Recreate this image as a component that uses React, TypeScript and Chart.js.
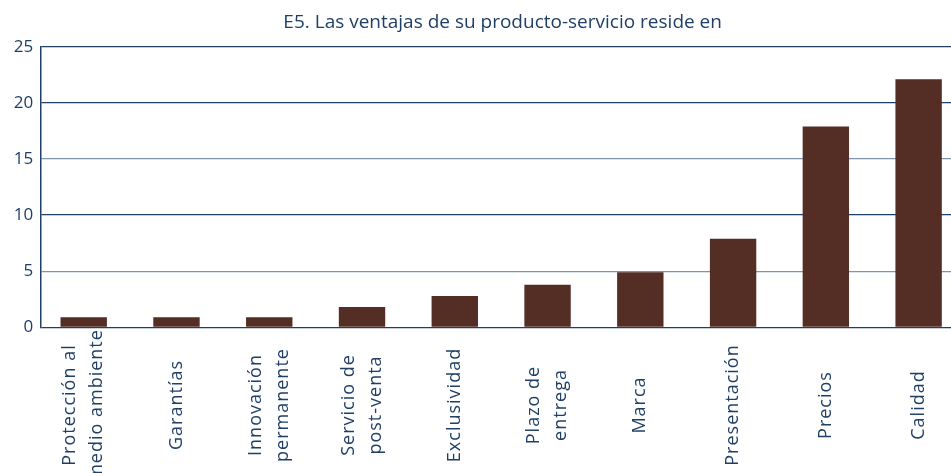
import React, { useEffect, useRef } from "react";
import { Chart, registerables } from "chart.js";

Chart.register(...registerables);

const TITLE = "E5. Las ventajas de su producto-servicio reside en";
const CATEGORIES: string[][] = [
  ["Protección al", "medio ambiente"],
  ["Garantías"],
  ["Innovación", "permanente"],
  ["Servicio de", "post-venta"],
  ["Exclusividad"],
  ["Plazo de", "entrega"],
  ["Marca"],
  ["Presentación"],
  ["Precios"],
  ["Calidad"],
];
const VALUES: number[] = [0.9, 0.9, 0.9, 1.8, 2.8, 3.8, 4.9, 7.9, 17.9, 22.1];
const Y_MIN = 0;
const Y_MAX = 25;
const Y_STEP = 5;

const NAVY = "#1f3f66";
const LIGHT = "#7d94ae";
const BAR = "#542d24";

const xLabelsPlugin = {
  id: "xLabelsRotated",
  afterDraw(chart: any) {
    const ctx = chart.ctx;
    const xs = chart.scales.x;
    ctx.save();
    ctx.fillStyle = NAVY;
    ctx.font = '18px "Open Sans"';
    try {
      (ctx as any).letterSpacing = "1px";
    } catch (e) {}
    ctx.textAlign = "center";
    ctx.textBaseline = "middle";
    const cy = 405;
    const lh = 27;
    CATEGORIES.forEach((lines, i) => {
      const cx = xs.getPixelForValue(i);
      lines.forEach((line, j) => {
        const off = (j - (lines.length - 1) / 2) * lh;
        ctx.save();
        ctx.translate(cx + off, cy);
        ctx.rotate(-Math.PI / 2);
        ctx.fillText(line, 0, 0);
        ctx.restore();
      });
    });
    ctx.restore();
  },
};

export default function App() {
  const ref = useRef<HTMLCanvasElement | null>(null);
  useEffect(() => {
    if (!ref.current) return;
    const chart = new Chart(ref.current, {
      type: "bar",
      data: {
        datasets: [
          {
            data: VALUES.map((v, i) => ({ x: i, y: v })),
            backgroundColor: BAR,
            borderWidth: 0,
            categoryPercentage: 1,
            barPercentage: 0.5,
          },
        ],
      },
      plugins: [xLabelsPlugin],
      options: {
        responsive: false,
        animation: false,
        devicePixelRatio: 1,
        layout: { padding: 0 },
        plugins: {
          legend: { display: false },
          tooltip: { enabled: false },
          title: {
            display: true,
            text: TITLE,
            color: NAVY,
            fullSize: false,
            font: { family: '"Open Sans"', size: 19, weight: "normal" },
            padding: { top: 11, bottom: 13 },
          },
        },
        scales: {
          x: {
            type: "linear",
            offset: false,
            min: -0.468,
            max: 9.5,
            ticks: { display: false },
            grid: { display: false, offset: false },
            border: { display: false },
            afterFit(scale: any) {
              scale.height = 145.7;
            },
          },
          y: {
            min: Y_MIN,
            max: Y_MAX,
            ticks: {
              stepSize: Y_STEP,
              color: NAVY,
              padding: 7,
              font: { family: '"Open Sans"', size: 17 },
            },
            grid: {
              drawTicks: false,
              color: (c: any) =>
                c.tick && (c.tick.value === 15 || c.tick.value === 5) ? LIGHT : NAVY,
              lineWidth: 1.2,
            },
            border: { display: true, color: NAVY, width: 1.5 },
            afterFit(scale: any) {
              scale.width = 40.3;
            },
          },
        },
      },
    } as any);
    return () => chart.destroy();
  }, []);
  return (
    <div
      style={{
        position: "fixed",
        left: 0,
        top: 0,
        width: 951,
        height: 473,
        overflow: "hidden",
        background: "#fff",
      }}
    >
      <canvas ref={ref} width={965} height={473} style={{ display: "block" }} />
    </div>
  );
}
